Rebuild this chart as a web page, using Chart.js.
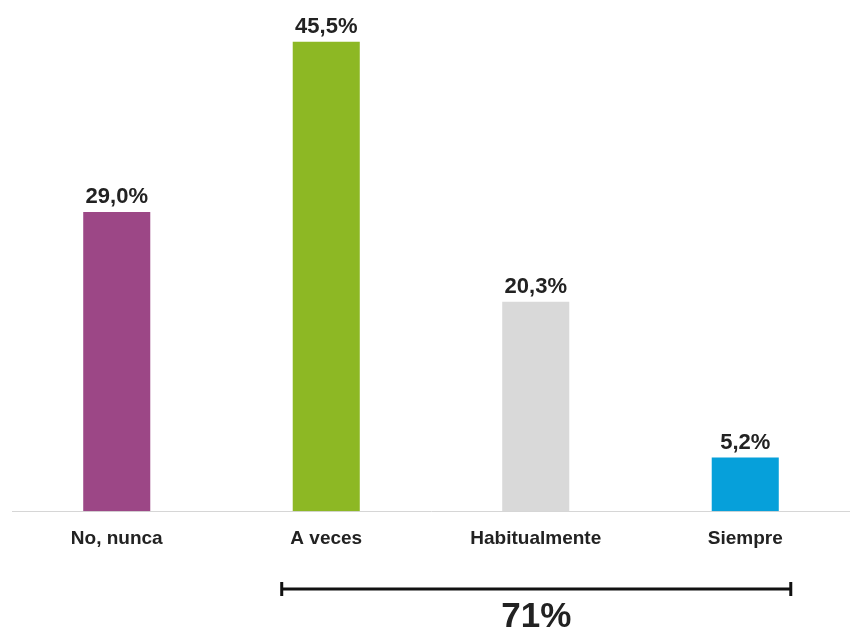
<!DOCTYPE html>
<html>
<head>
<meta charset="utf-8">
<script src="https://cdn.jsdelivr.net/npm/chart.js@4.4.1/dist/chart.umd.min.js"></script>
<style>
  html, body { margin: 0; padding: 0; background: #fff; }
  #wrap { width: 850px; height: 633px; position: relative; }
</style>
</head>
<body>
<div id="wrap"><canvas id="grafico"></canvas></div>
<script>
// Datos
const categorias = ['No, nunca', 'A veces', 'Habitualmente', 'Siempre'];
const porcentajes = [29.0, 45.5, 20.3, 5.2];
const colores = ['#9c4786', '#8db824', '#d9d9d9', '#06a0da'];
const totalTexto = '71%';
const rangoTotal = [1, 3]; // de "A veces" a "Siempre"

const fmt = v => v.toFixed(1).replace('.', ',') + '%';

// Etiquetas de valor encima de cada barra
const etiquetasValor = {
  id: 'etiquetasValor',
  afterDatasetsDraw(chart) {
    const ctx = chart.ctx;
    const meta = chart.getDatasetMeta(0);
    ctx.save();
    ctx.font = 'bold 22px "Liberation Sans", Arial, sans-serif';
    ctx.fillStyle = '#222';
    ctx.textAlign = 'center';
    ctx.textBaseline = 'alphabetic';
    meta.data.forEach((bar, i) => {
      ctx.fillText(fmt(porcentajes[i]), bar.x, bar.y - 9);
    });
    ctx.restore();
  }
};

// Corchete inferior con el total
const corcheteTotal = {
  id: 'corcheteTotal',
  afterDraw(chart) {
    const ctx = chart.ctx;
    const meta = chart.getDatasetMeta(0);
    const a = meta.data[rangoTotal[0]];
    const b = meta.data[rangoTotal[1]];
    const x1 = a.x - a.width / 2 - 11;
    const x2 = b.x + b.width / 2 + 12;
    const y = 589;
    ctx.save();
    ctx.strokeStyle = '#111';
    ctx.lineWidth = 3;
    ctx.beginPath();
    ctx.moveTo(x1, y); ctx.lineTo(x2, y);
    ctx.moveTo(x1, y - 7); ctx.lineTo(x1, y + 7);
    ctx.moveTo(x2, y - 7); ctx.lineTo(x2, y + 7);
    ctx.stroke();
    ctx.font = 'bold 35px "Liberation Sans", Arial, sans-serif';
    ctx.fillStyle = '#222';
    ctx.textAlign = 'center';
    ctx.textBaseline = 'middle';
    ctx.fillText(totalTexto, (x1 + x2) / 2, 617);
    ctx.restore();
  }
};

new Chart(document.getElementById('grafico'), {
  type: 'bar',
  data: {
    labels: categorias,
    datasets: [{
      data: porcentajes,
      backgroundColor: colores,
      barPercentage: 0.32,
      categoryPercentage: 1
    }]
  },
  options: {
    responsive: true,
    maintainAspectRatio: false,
    animation: false,
    layout: { padding: { top: 16, left: 12, right: 0, bottom: 67 } },
    plugins: {
      legend: { display: false },
      tooltip: { enabled: false }
    },
    scales: {
      x: {
        grid: { display: false, drawTicks: false },
        border: { color: '#d6d6d6', width: 1 },
        ticks: {
          color: '#222',
          padding: 16,
          font: { family: '"Liberation Sans", Arial, sans-serif', size: 19, weight: 'bold' }
        }
      },
      y: {
        display: false,
        min: 0,
        max: 48
      }
    }
  },
  plugins: [etiquetasValor, corcheteTotal]
});
</script>
</body>
</html>
